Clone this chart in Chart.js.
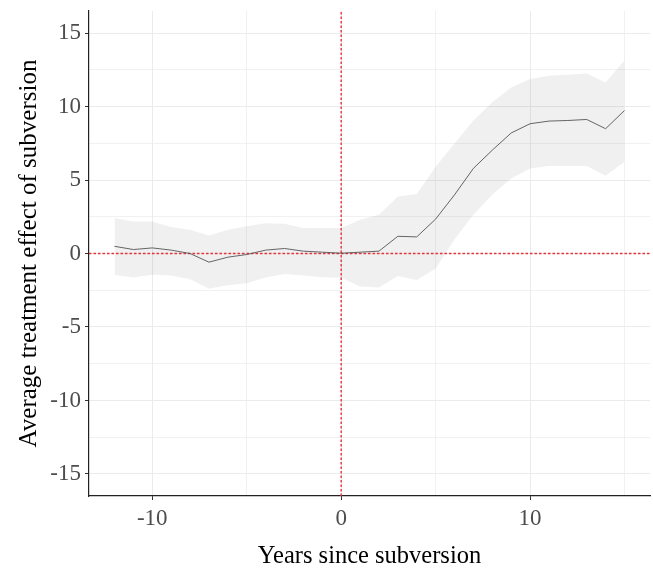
<!DOCTYPE html>
<html>
<head>
<meta charset="utf-8">
<script src="https://cdn.jsdelivr.net/npm/chart.js@4.4.0/dist/chart.umd.min.js"></script>
<style>
  html, body { margin: 0; padding: 0; background: #fff; }
  #wrap { width: 653px; height: 571px; }
</style>
</head>
<body>
<div id="wrap"><canvas id="chart" width="653" height="571"></canvas></div>
<script>
// years relative to subversion
const years = [-12, -11, -10, -9, -8, -7, -6, -5, -4, -3, -2, -1, 0, 1, 2, 3, 4, 5, 6, 7, 8, 9, 10, 11, 12, 13, 14, 15];
const estimate = [0.49, 0.27, 0.38, 0.23, 0.0, -0.59, -0.25, -0.07, 0.23, 0.34, 0.16, 0.09, 0.02, 0.09, 0.16, 1.17, 1.13, 2.34, 3.99, 5.79, 7.03, 8.20, 8.83, 9.01, 9.05, 9.12, 8.49, 9.73];
const upper = [2.41, 2.18, 2.18, 1.80, 1.62, 1.22, 1.62, 1.85, 2.05, 2.03, 1.73, 1.73, 1.73, 2.30, 2.64, 3.87, 4.05, 5.90, 7.48, 9.05, 10.29, 11.30, 11.87, 12.09, 12.16, 12.25, 11.64, 13.15];
const lower = [-1.46, -1.64, -1.44, -1.49, -1.76, -2.39, -2.16, -2.03, -1.64, -1.40, -1.49, -1.62, -1.65, -2.25, -2.32, -1.53, -1.80, -1.04, 0.95, 2.64, 3.99, 5.11, 5.79, 5.95, 5.95, 5.95, 5.29, 6.24];

const xTicks = [-10, -5, 0, 5, 10, 15];
const xLabels = ['-10', '', '0', '', '10', ''];
const yTicks = [-15, -12.5, -10, -7.5, -5, -2.5, 0, 2.5, 5, 7.5, 10, 12.5, 15];
const yLabels = ['-15', '', '-10', '', '-5', '', '0', '', '5', '', '10', '', '15'];

const xMin = -13.35, xMax = 16.35;
const yMin = -16.5, yMax = 16.5;

const serif = '"Liberation Serif", "DejaVu Serif", serif';
const refRed = '#e5333b';

const pts = arr => years.map((x, i) => ({ x: x, y: arr[i] }));

new Chart(document.getElementById('chart'), {
  type: 'line',
  data: {
    datasets: [
      { data: pts(lower), borderWidth: 0, pointRadius: 0, fill: false, order: 3 },
      { data: pts(upper), borderWidth: 0, pointRadius: 0, fill: '-1',
        backgroundColor: 'rgba(0,0,0,0.06)', order: 3 },
      { data: [{ x: xMin, y: 0 }, { x: xMax, y: 0 }], borderColor: refRed, borderWidth: 1.4,
        borderDash: [2.5, 2], pointRadius: 0, order: 2 },
      { data: [{ x: 0, y: yMin }, { x: 0, y: yMax }], borderColor: refRed, borderWidth: 1.4,
        borderDash: [2.5, 2], pointRadius: 0, order: 2 },
      { data: pts(estimate), borderColor: '#555', borderWidth: 0.9, pointRadius: 0,
        tension: 0, order: 1 }
    ]
  },
  options: {
    responsive: false,
    animation: false,
    layout: { padding: { top: 11, right: 3, left: 0, bottom: 0 } },
    plugins: { legend: { display: false }, tooltip: { enabled: false } },
    scales: {
      x: {
        type: 'linear', min: xMin, max: xMax,
        afterBuildTicks: s => { s.ticks = xTicks.map(v => ({ value: v })); },
        afterFit: s => { s.height = 75; s.paddingLeft = 0; s.paddingRight = 0; },
        ticks: {
          callback: (v, i) => xLabels[i],
          color: '#4d4d4d', font: { family: serif, size: 23 }, padding: 5, maxRotation: 0, autoSkip: false
        },
        grid: {
          color: '#ebebeb',
          lineWidth: c => (c.tick && xLabels[c.index] !== '') ? 1 : 0.7,
          tickColor: c => (c.tick && xLabels[c.index] !== '') ? '#333' : 'rgba(0,0,0,0)',
          tickLength: 4
        },
        border: { display: true, color: '#222', width: 1.2 },
        title: {
          display: true, text: 'Years since subversion', color: '#000',
          font: { family: serif, size: 24.5 }, padding: { top: 8, bottom: 0 }
        }
      },
      y: {
        type: 'linear', min: yMin, max: yMax,
        afterBuildTicks: s => { s.ticks = yTicks.map(v => ({ value: v })); },
        afterFit: s => { s.width = 89; s.paddingTop = 0; s.paddingBottom = 0; },
        ticks: {
          callback: (v, i) => yLabels[i],
          color: '#4d4d4d', font: { family: serif, size: 23 }, padding: 4, autoSkip: false
        },
        grid: {
          color: '#ebebeb',
          lineWidth: c => (c.tick && yLabels[c.index] !== '') ? 1 : 0.7,
          tickColor: c => (c.tick && yLabels[c.index] !== '') ? '#333' : 'rgba(0,0,0,0)',
          tickLength: 4
        },
        border: { display: true, color: '#222', width: 1.2 },
        title: {
          display: true, text: 'Average treatment effect of subversion', color: '#000',
          font: { family: serif, size: 25 }, padding: { top: 14, bottom: 0 }
        }
      }
    }
  }
});
</script>
</body>
</html>
